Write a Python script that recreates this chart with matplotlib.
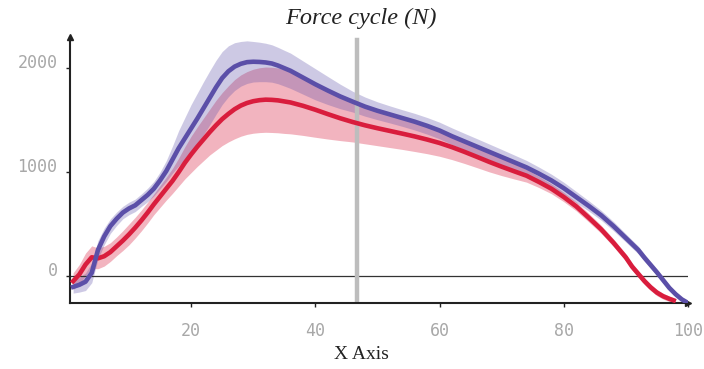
import matplotlib
import matplotlib.pyplot as plt
import numpy as np

matplotlib.use('Agg')

# blue series (mean and half-width of the shaded band)
blue_x = list(range(1, 37)) + list(range(38, 93, 2)) + list(range(93, 101))
blue_mean = [-105, -85, -55, 30, 250, 380, 480, 550, 610, 650, 680, 730, 780, 840, 920, 1010,
             1120, 1230, 1325, 1420, 1515, 1615, 1715, 1815, 1905, 1970, 2015, 2042, 2058, 2062,
             2060, 2055, 2045, 2025, 2000, 1975,
             1910, 1845, 1785, 1728, 1678, 1630, 1590, 1555, 1520, 1485, 1445, 1400, 1345, 1295,
             1245, 1195, 1145, 1095, 1045, 985, 920, 845, 760, 675, 585, 480, 365, 250,
             175, 105, 35, -40, -115, -175, -225, -260]
blue_sd = [60, 70, 85, 95, 90, 80, 70, 65, 60, 60, 60, 60, 65, 70, 80, 100, 130, 170, 200, 230,
           245, 255, 260, 260, 255, 245, 230, 215, 205, 195, 190, 185, 180, 175, 172, 170,
           160, 150, 135, 118, 100, 92, 86, 82, 80, 80, 80, 80, 80, 78, 77, 75, 73, 70, 67, 63,
           60, 57, 54, 50, 47, 44, 40, 37,
           35, 33, 31, 29, 26, 23, 20, 15]

# red series
red_x = list(range(1, 37)) + list(range(38, 91, 2)) + list(range(91, 98)) + [97.7]
red_mean = [-50, 15, 110, 180, 170, 190, 230, 285, 340, 400, 465, 535, 610, 690, 765, 840,
            915, 1000, 1090, 1170, 1245, 1315, 1385, 1450, 1510, 1560, 1605, 1640, 1665, 1682,
            1692, 1697, 1695, 1690, 1680, 1670,
            1638, 1600, 1558, 1518, 1482, 1450, 1422, 1396, 1370, 1343, 1313, 1280, 1240, 1195,
            1147, 1098, 1052, 1008, 965, 905, 840, 760, 670, 562, 450, 320, 178,
            90, 20, -50, -110, -160, -195, -220, -235]
red_sd = [80, 95, 110, 110, 100, 95, 90, 90, 95, 100, 100, 100, 100, 100, 105, 110, 120, 135,
          155, 175, 190, 205, 220, 240, 255, 270, 285, 295, 302, 308, 312, 314, 314, 312, 308, 302,
          285, 265, 240, 215, 192, 178, 168, 160, 152, 145, 136, 128, 120, 112, 104, 96, 86, 74,
          62, 54, 48, 45, 43, 41, 39, 37, 35,
          34, 33, 32, 31, 30, 28, 26, 25]

vline_x = 46.7
x_ticks = [20, 40, 60, 80, 100]
y_ticks = [0, 1000, 2000]

BLUE = '#5b4fa8'
RED = '#d91d3d'

fig = plt.figure(figsize=(7.04, 3.69), dpi=100)
ax = fig.add_axes([70 / 704, 1 - 303 / 369, 618 / 704, 266 / 369])

bx, bm, bs = np.array(blue_x), np.array(blue_mean), np.array(blue_sd)
rx, rm, rs = np.array(red_x), np.array(red_mean), np.array(red_sd)

ax.fill_between(rx, rm - rs, rm + rs, color=RED, alpha=0.33, linewidth=0)
ax.fill_between(bx, bm - bs, bm + bs, color=BLUE, alpha=0.30, linewidth=0)

ax.axhline(0, color='#333333', linewidth=0.9, zorder=1)
ax.axvline(vline_x, ymax=0.988, color='#bdbdbd', linewidth=3.2, zorder=2)

ax.plot(rx, rm, color=RED, linewidth=3.3, zorder=3)
ax.plot(bx, bm, color=BLUE, linewidth=3.3, zorder=4)

ax.set_xlim(0.5, 100)
ax.set_ylim(-260, 2300)

for side in ['top', 'right']:
    ax.spines[side].set_visible(False)
for side in ['left', 'bottom']:
    ax.spines[side].set_linewidth(1.5)
    ax.spines[side].set_color('#222222')

# arrow heads on the axes
ax.plot(1, 0, '>', color='#222222', markersize=4, transform=ax.transAxes, clip_on=False)
ax.plot(0, 1, '^', color='#222222', markersize=4, transform=ax.transAxes, clip_on=False)

ax.set_xticks(x_ticks)
ax.set_yticks(y_ticks)
ax.tick_params(axis='x', direction='out', length=3, width=1, pad=11,
               labelsize=12, labelcolor='#a8a8a8', color='#222222')
ax.tick_params(axis='y', direction='out', length=3, width=1, pad=6,
               labelsize=12, labelcolor='#a8a8a8', color='#222222')
for lbl in ax.get_xticklabels() + ax.get_yticklabels():
    lbl.set_family('DejaVu Sans Mono')
for lbl in ax.get_yticklabels():
    lbl.set_va('baseline')

ax.set_xlabel('X Axis', family='Liberation Serif', fontsize=14, color='#222222')
ax.xaxis.set_label_coords(0.471, -0.16)

ax.text(0.471, 1.071, 'Force cycle (N)', transform=ax.transAxes, ha='center', va='center',
        family='Liberation Serif', style='italic', fontsize=17.5, color='#222222')

fig.savefig('out.png', dpi=100, facecolor='white')
plt.close(fig)
